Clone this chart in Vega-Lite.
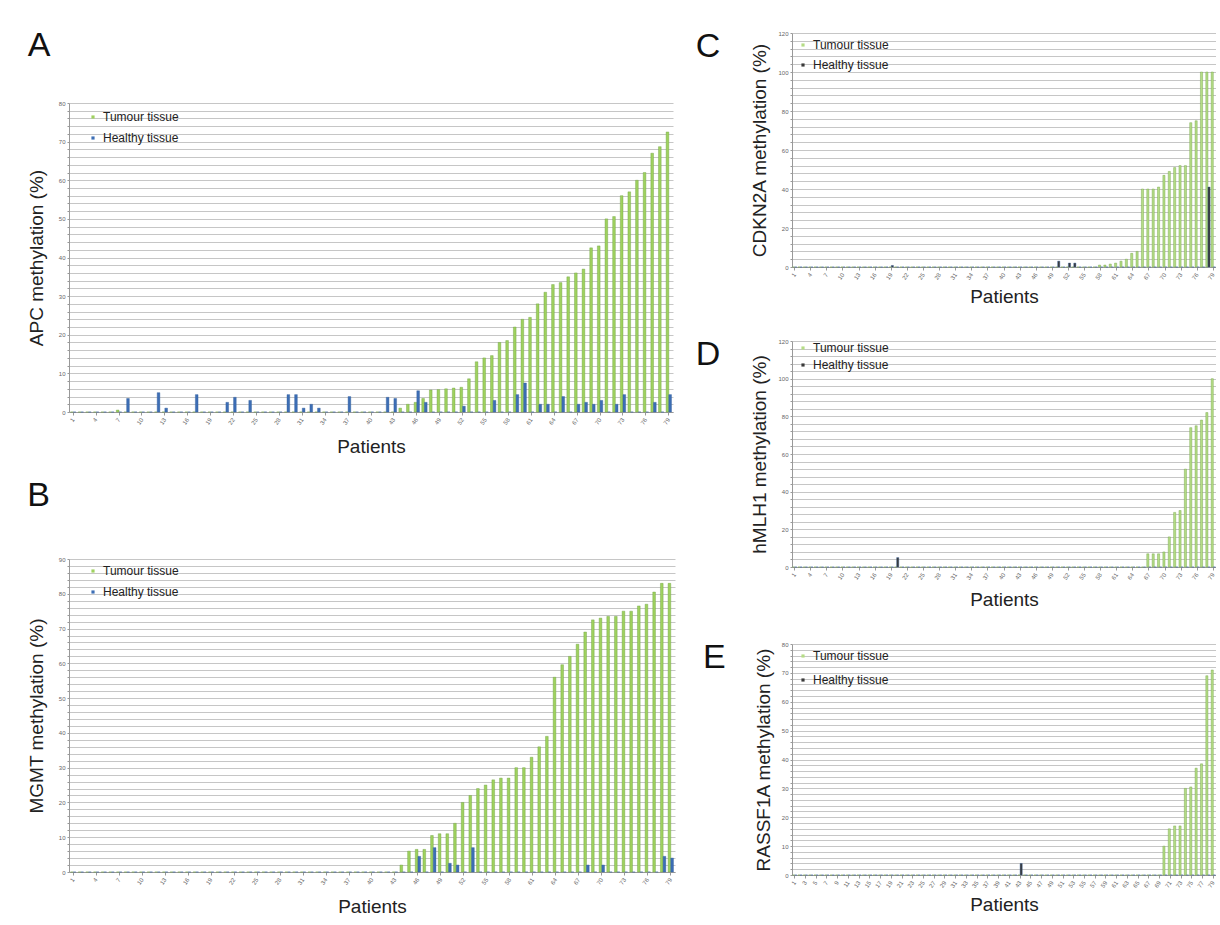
{
  "$schema": "https://vega.github.io/schema/vega-lite/v6.json",
  "background": "white",
  "padding": {"left": 27, "top": 29, "right": 0, "bottom": 0},
  "config": {
    "font": "Liberation Sans",
    "view": {"stroke": null},
    "title": {"fontSize": 34, "fontWeight": "normal", "color": "#111", "font": "Liberation Sans"},
    "axis": {"labelFont": "Liberation Sans", "titleFont": "Liberation Sans", "titleFontWeight": "normal", "titleColor": "#222", "labelColor": "#666", "domainColor": "#999", "tickColor": "#999", "gridColor": "#c6c6c6", "titleFontSize": 19},
    "axisX": {"grid": false, "labelFontSize": 6, "labelAngle": -55, "tickSize": 3, "titlePadding": 12, "labelPadding": 3},
    "axisY": {"labelFontSize": 6, "tickSize": 2, "titlePadding": 12},
    "legend": {"title": null, "orient": "none", "labelFontSize": 12, "labelColor": "#222", "symbolType": "square", "symbolSize": 10, "rowPadding": 9, "labelFont": "Liberation Sans"},
    "bar": {"strokeWidth": 0.4}
  },
  "datasets": {
    "A": [
      {"p":1,"T":0,"H":0},{"p":2,"T":0,"H":0},{"p":3,"T":0,"H":0},{"p":4,"T":0,"H":0},{"p":5,"T":0,"H":0},{"p":6,"T":0,"H":0},{"p":7,"T":0.5,"H":0},{"p":8,"T":0,"H":3.5},{"p":9,"T":0,"H":0},{"p":10,"T":0,"H":0},
      {"p":11,"T":0,"H":0},{"p":12,"T":0,"H":5},{"p":13,"T":0,"H":1},{"p":14,"T":0,"H":0},{"p":15,"T":0,"H":0},{"p":16,"T":0,"H":0},{"p":17,"T":0,"H":4.5},{"p":18,"T":0,"H":0},{"p":19,"T":0,"H":0},{"p":20,"T":0,"H":0},
      {"p":21,"T":0,"H":2.5},{"p":22,"T":0,"H":3.8},{"p":23,"T":0,"H":0},{"p":24,"T":0,"H":3},{"p":25,"T":0,"H":0},{"p":26,"T":0,"H":0},{"p":27,"T":0,"H":0},{"p":28,"T":0,"H":0},{"p":29,"T":0,"H":4.5},{"p":30,"T":0,"H":4.5},
      {"p":31,"T":0,"H":1},{"p":32,"T":0,"H":2},{"p":33,"T":0,"H":1},{"p":34,"T":0,"H":0},{"p":35,"T":0,"H":0},{"p":36,"T":0,"H":0},{"p":37,"T":0,"H":4},{"p":38,"T":0,"H":0},{"p":39,"T":0,"H":0},{"p":40,"T":0,"H":0},
      {"p":41,"T":0,"H":0},{"p":42,"T":0,"H":3.8},{"p":43,"T":0,"H":3.5},{"p":44,"T":1,"H":0},{"p":45,"T":2,"H":0},{"p":46,"T":2.5,"H":5.5},{"p":47,"T":3.5,"H":2.5},{"p":48,"T":5.7,"H":0},{"p":49,"T":5.8,"H":0},{"p":50,"T":6,"H":0},
      {"p":51,"T":6.2,"H":0},{"p":52,"T":6.4,"H":1.5},{"p":53,"T":8.6,"H":0},{"p":54,"T":13,"H":0},{"p":55,"T":14,"H":0},{"p":56,"T":14.6,"H":3},{"p":57,"T":18,"H":0},{"p":58,"T":18.5,"H":0},{"p":59,"T":22,"H":4.5},{"p":60,"T":24,"H":7.5},
      {"p":61,"T":24.5,"H":0},{"p":62,"T":28,"H":2},{"p":63,"T":31,"H":2},{"p":64,"T":33,"H":0},{"p":65,"T":33.5,"H":4},{"p":66,"T":35,"H":0},{"p":67,"T":36,"H":2},{"p":68,"T":37,"H":2.5},{"p":69,"T":42.5,"H":2},{"p":70,"T":43,"H":3},
      {"p":71,"T":50,"H":0},{"p":72,"T":50.6,"H":2},{"p":73,"T":56,"H":4.5},{"p":74,"T":57,"H":0},{"p":75,"T":60,"H":0},{"p":76,"T":62,"H":0},{"p":77,"T":67,"H":2.5},{"p":78,"T":68.7,"H":0},{"p":79,"T":72.5,"H":4.5}
    ],
    "B": [
      {"p":1,"T":0,"H":0},{"p":2,"T":0,"H":0},{"p":3,"T":0,"H":0},{"p":4,"T":0,"H":0},{"p":5,"T":0,"H":0},{"p":6,"T":0,"H":0},{"p":7,"T":0,"H":0},{"p":8,"T":0,"H":0},{"p":9,"T":0,"H":0},{"p":10,"T":0,"H":0},
      {"p":11,"T":0,"H":0},{"p":12,"T":0,"H":0},{"p":13,"T":0,"H":0},{"p":14,"T":0,"H":0},{"p":15,"T":0,"H":0},{"p":16,"T":0,"H":0},{"p":17,"T":0,"H":0},{"p":18,"T":0,"H":0},{"p":19,"T":0,"H":0},{"p":20,"T":0,"H":0},
      {"p":21,"T":0,"H":0},{"p":22,"T":0,"H":0},{"p":23,"T":0,"H":0},{"p":24,"T":0,"H":0},{"p":25,"T":0,"H":0},{"p":26,"T":0,"H":0},{"p":27,"T":0,"H":0},{"p":28,"T":0,"H":0},{"p":29,"T":0,"H":0},{"p":30,"T":0,"H":0},
      {"p":31,"T":0,"H":0},{"p":32,"T":0,"H":0},{"p":33,"T":0,"H":0},{"p":34,"T":0,"H":0},{"p":35,"T":0,"H":0},{"p":36,"T":0,"H":0},{"p":37,"T":0,"H":0},{"p":38,"T":0,"H":0},{"p":39,"T":0,"H":0},{"p":40,"T":0,"H":0},
      {"p":41,"T":0,"H":0},{"p":42,"T":0,"H":0},{"p":43,"T":0,"H":0},{"p":44,"T":2,"H":0},{"p":45,"T":6,"H":0},{"p":46,"T":6.5,"H":4.5},{"p":47,"T":6.5,"H":0},{"p":48,"T":10.5,"H":7},{"p":49,"T":11,"H":0},{"p":50,"T":11,"H":2.5},
      {"p":51,"T":14,"H":2},{"p":52,"T":20,"H":0},{"p":53,"T":22,"H":7},{"p":54,"T":24,"H":0},{"p":55,"T":25,"H":0},{"p":56,"T":26.5,"H":0},{"p":57,"T":27,"H":0},{"p":58,"T":27,"H":0},{"p":59,"T":30,"H":0},{"p":60,"T":30,"H":0},
      {"p":61,"T":33,"H":0},{"p":62,"T":36,"H":0},{"p":63,"T":39,"H":0},{"p":64,"T":56,"H":0},{"p":65,"T":59.6,"H":0},{"p":66,"T":62,"H":0},{"p":67,"T":65.5,"H":0},{"p":68,"T":69,"H":2},{"p":69,"T":72.5,"H":0},{"p":70,"T":73,"H":2},
      {"p":71,"T":73.5,"H":0},{"p":72,"T":73.5,"H":0},{"p":73,"T":75,"H":0},{"p":74,"T":75,"H":0},{"p":75,"T":76.5,"H":0},{"p":76,"T":77,"H":0},{"p":77,"T":80.5,"H":0},{"p":78,"T":83,"H":4.5},{"p":79,"T":83,"H":4}
    ],
    "C": [
      {"p":1,"T":0,"H":0},{"p":2,"T":0,"H":0},{"p":3,"T":0,"H":0},{"p":4,"T":0,"H":0},{"p":5,"T":0,"H":0},{"p":6,"T":0,"H":0},{"p":7,"T":0,"H":0},{"p":8,"T":0,"H":0},{"p":9,"T":0,"H":0},{"p":10,"T":0,"H":0},
      {"p":11,"T":0,"H":0},{"p":12,"T":0,"H":0},{"p":13,"T":0,"H":0},{"p":14,"T":0,"H":0},{"p":15,"T":0,"H":0},{"p":16,"T":0,"H":0},{"p":17,"T":0,"H":0},{"p":18,"T":0,"H":0},{"p":19,"T":0,"H":0.8},{"p":20,"T":0,"H":0},
      {"p":21,"T":0,"H":0},{"p":22,"T":0,"H":0},{"p":23,"T":0,"H":0},{"p":24,"T":0,"H":0},{"p":25,"T":0,"H":0},{"p":26,"T":0,"H":0},{"p":27,"T":0,"H":0},{"p":28,"T":0,"H":0},{"p":29,"T":0,"H":0},{"p":30,"T":0,"H":0},
      {"p":31,"T":0,"H":0},{"p":32,"T":0,"H":0},{"p":33,"T":0,"H":0},{"p":34,"T":0,"H":0},{"p":35,"T":0,"H":0},{"p":36,"T":0,"H":0},{"p":37,"T":0,"H":0},{"p":38,"T":0,"H":0},{"p":39,"T":0,"H":0},{"p":40,"T":0,"H":0},
      {"p":41,"T":0,"H":0},{"p":42,"T":0,"H":0},{"p":43,"T":0,"H":0},{"p":44,"T":0,"H":0},{"p":45,"T":0,"H":0},{"p":46,"T":0,"H":0},{"p":47,"T":0,"H":0},{"p":48,"T":0,"H":0},{"p":49,"T":0,"H":0},{"p":50,"T":0,"H":3},
      {"p":51,"T":0,"H":0},{"p":52,"T":0,"H":2},{"p":53,"T":0,"H":2},{"p":54,"T":0,"H":0},{"p":55,"T":0,"H":0},{"p":56,"T":0,"H":0},{"p":57,"T":0,"H":0},{"p":58,"T":1,"H":0},{"p":59,"T":1,"H":0},{"p":60,"T":1.5,"H":0},
      {"p":61,"T":2,"H":0},{"p":62,"T":3,"H":0},{"p":63,"T":4,"H":0},{"p":64,"T":7,"H":0},{"p":65,"T":8,"H":0},{"p":66,"T":40,"H":0},{"p":67,"T":40,"H":0},{"p":68,"T":40,"H":0},{"p":69,"T":41,"H":0},{"p":70,"T":47,"H":0},
      {"p":71,"T":49,"H":0},{"p":72,"T":51,"H":0},{"p":73,"T":52,"H":0},{"p":74,"T":52,"H":0},{"p":75,"T":74,"H":0},{"p":76,"T":75,"H":0},{"p":77,"T":100,"H":0},{"p":78,"T":100,"H":41},{"p":79,"T":100,"H":0}
    ],
    "D": [
      {"p":1,"T":0,"H":0},{"p":2,"T":0,"H":0},{"p":3,"T":0,"H":0},{"p":4,"T":0,"H":0},{"p":5,"T":0,"H":0},{"p":6,"T":0,"H":0},{"p":7,"T":0,"H":0},{"p":8,"T":0,"H":0},{"p":9,"T":0,"H":0},{"p":10,"T":0,"H":0},
      {"p":11,"T":0,"H":0},{"p":12,"T":0,"H":0},{"p":13,"T":0,"H":0},{"p":14,"T":0,"H":0},{"p":15,"T":0,"H":0},{"p":16,"T":0,"H":0},{"p":17,"T":0,"H":0},{"p":18,"T":0,"H":0},{"p":19,"T":0,"H":0},{"p":20,"T":0,"H":5},
      {"p":21,"T":0,"H":0},{"p":22,"T":0,"H":0},{"p":23,"T":0,"H":0},{"p":24,"T":0,"H":0},{"p":25,"T":0,"H":0},{"p":26,"T":0,"H":0},{"p":27,"T":0,"H":0},{"p":28,"T":0,"H":0},{"p":29,"T":0,"H":0},{"p":30,"T":0,"H":0},
      {"p":31,"T":0,"H":0},{"p":32,"T":0,"H":0},{"p":33,"T":0,"H":0},{"p":34,"T":0,"H":0},{"p":35,"T":0,"H":0},{"p":36,"T":0,"H":0},{"p":37,"T":0,"H":0},{"p":38,"T":0,"H":0},{"p":39,"T":0,"H":0},{"p":40,"T":0,"H":0},
      {"p":41,"T":0,"H":0},{"p":42,"T":0,"H":0},{"p":43,"T":0,"H":0},{"p":44,"T":0,"H":0},{"p":45,"T":0,"H":0},{"p":46,"T":0,"H":0},{"p":47,"T":0,"H":0},{"p":48,"T":0,"H":0},{"p":49,"T":0,"H":0},{"p":50,"T":0,"H":0},
      {"p":51,"T":0,"H":0},{"p":52,"T":0,"H":0},{"p":53,"T":0,"H":0},{"p":54,"T":0,"H":0},{"p":55,"T":0,"H":0},{"p":56,"T":0,"H":0},{"p":57,"T":0,"H":0},{"p":58,"T":0,"H":0},{"p":59,"T":0,"H":0},{"p":60,"T":0,"H":0},
      {"p":61,"T":0,"H":0},{"p":62,"T":0,"H":0},{"p":63,"T":0,"H":0},{"p":64,"T":0,"H":0},{"p":65,"T":0,"H":0},{"p":66,"T":0,"H":0},{"p":67,"T":7,"H":0},{"p":68,"T":7,"H":0},{"p":69,"T":7,"H":0},{"p":70,"T":8,"H":0},
      {"p":71,"T":16,"H":0},{"p":72,"T":29,"H":0},{"p":73,"T":30,"H":0},{"p":74,"T":52,"H":0},{"p":75,"T":74,"H":0},{"p":76,"T":75,"H":0},{"p":77,"T":78,"H":0},{"p":78,"T":82,"H":0},{"p":79,"T":100,"H":0}
    ],
    "E": [
      {"p":1,"T":0,"H":0},{"p":2,"T":0,"H":0},{"p":3,"T":0,"H":0},{"p":4,"T":0,"H":0},{"p":5,"T":0,"H":0},{"p":6,"T":0,"H":0},{"p":7,"T":0,"H":0},{"p":8,"T":0,"H":0},{"p":9,"T":0,"H":0},{"p":10,"T":0,"H":0},
      {"p":11,"T":0,"H":0},{"p":12,"T":0,"H":0},{"p":13,"T":0,"H":0},{"p":14,"T":0,"H":0},{"p":15,"T":0,"H":0},{"p":16,"T":0,"H":0},{"p":17,"T":0,"H":0},{"p":18,"T":0,"H":0},{"p":19,"T":0,"H":0},{"p":20,"T":0,"H":0},
      {"p":21,"T":0,"H":0},{"p":22,"T":0,"H":0},{"p":23,"T":0,"H":0},{"p":24,"T":0,"H":0},{"p":25,"T":0,"H":0},{"p":26,"T":0,"H":0},{"p":27,"T":0,"H":0},{"p":28,"T":0,"H":0},{"p":29,"T":0,"H":0},{"p":30,"T":0,"H":0},
      {"p":31,"T":0,"H":0},{"p":32,"T":0,"H":0},{"p":33,"T":0,"H":0},{"p":34,"T":0,"H":0},{"p":35,"T":0,"H":0},{"p":36,"T":0,"H":0},{"p":37,"T":0,"H":0},{"p":38,"T":0,"H":0},{"p":39,"T":0,"H":0},{"p":40,"T":0,"H":0},
      {"p":41,"T":0,"H":0},{"p":42,"T":0,"H":0},{"p":43,"T":0,"H":4},{"p":44,"T":0,"H":0},{"p":45,"T":0,"H":0},{"p":46,"T":0,"H":0},{"p":47,"T":0,"H":0},{"p":48,"T":0,"H":0},{"p":49,"T":0,"H":0},{"p":50,"T":0,"H":0},
      {"p":51,"T":0,"H":0},{"p":52,"T":0,"H":0},{"p":53,"T":0,"H":0},{"p":54,"T":0,"H":0},{"p":55,"T":0,"H":0},{"p":56,"T":0,"H":0},{"p":57,"T":0,"H":0},{"p":58,"T":0,"H":0},{"p":59,"T":0,"H":0},{"p":60,"T":0,"H":0},
      {"p":61,"T":0,"H":0},{"p":62,"T":0,"H":0},{"p":63,"T":0,"H":0},{"p":64,"T":0,"H":0},{"p":65,"T":0,"H":0},{"p":66,"T":0,"H":0},{"p":67,"T":0,"H":0},{"p":68,"T":0,"H":0},{"p":69,"T":0,"H":0},{"p":70,"T":10,"H":0},
      {"p":71,"T":16,"H":0},{"p":72,"T":17,"H":0},{"p":73,"T":17,"H":0},{"p":74,"T":30,"H":0},{"p":75,"T":30.5,"H":0},{"p":76,"T":37,"H":0},{"p":77,"T":38.5,"H":0},{"p":78,"T":69,"H":0},{"p":79,"T":71,"H":0}
    ]
  },
  "resolve": {"scale": {"color": "independent", "xOffset": "independent", "x": "independent", "y": "independent"}, "legend": {"color": "independent"}},
  "columns": 2,
  "align": "none",
  "spacing": 20,
  "concat": [
    {
      "spacing": 22,
      "resolve": {"scale": {"color": "independent", "xOffset": "independent", "x": "independent", "y": "independent"}, "legend": {"color": "independent"}},
      "vconcat": [
        {
          "data": {"values": [{"a": 0}]},
          "width": 604, "height": 45,
          "title": {"text": "A", "orient": "left", "anchor": "end", "angle": 0, "baseline": "top", "align": "right", "offset": -4, "dy": -4},
          "mark": {"type": "point", "opacity": 0},
          "encoding": {}
        },
        {
          "data": {"name": "A"},
          "transform": [{"fold": ["T", "H"], "as": ["t", "v"]}],
          "width": 604, "height": 309,
          "mark": {"type": "bar"},
          "encoding": {
            "x": {"field": "p", "type": "ordinal", "scale": {"paddingInner": 0.3, "paddingOuter": 0.2},
                  "axis": {"title": "Patients", "values": [1,4,7,10,13,16,19,22,25,28,31,34,37,40,43,46,49,52,55,58,61,64,67,70,73,76,79]}},
            "xOffset": {"field": "t", "type": "nominal", "scale": {"domain": ["T", "H"]}},
            "y": {"field": "v", "type": "quantitative", "scale": {"domain": [0, 80], "nice": false},
                  "axis": {"title": "APC methylation (%)", "values": [0,2,4,6,8,10,12,14,16,18,20,22,24,26,28,30,32,34,36,38,40,42,44,46,48,50,52,54,56,58,60,62,64,66,68,70,72,74,76,78,80], "labelExpr": "datum.value % 10 == 0 ? datum.label : ''"}},
            "color": {"field": "t", "type": "nominal", "scale": {"domain": ["T", "H"], "range": ["#9fd15f", "#3d6eb5"]},
                      "legend": {"legendX": 18, "legendY": 8, "labelExpr": "datum.label == 'T' ? 'Tumour tissue' : 'Healthy tissue'"}},
            "stroke": {"field": "t", "type": "nominal", "scale": {"domain": ["T", "H"], "range": ["#6a9f3c", "#2d5a9a"]}, "legend": null}
          }
        },
        {
          "data": {"name": "B"},
          "transform": [{"fold": ["T", "H"], "as": ["t", "v"]}],
          "width": 606, "height": 313,
          "title": {"text": "B", "anchor": "start", "frame": "bounds", "offset": 43},
          "mark": {"type": "bar"},
          "encoding": {
            "x": {"field": "p", "type": "ordinal", "scale": {"paddingInner": 0.3, "paddingOuter": 0.2},
                  "axis": {"title": "Patients", "values": [1,4,7,10,13,16,19,22,25,28,31,34,37,40,43,46,49,52,55,58,61,64,67,70,73,76,79]}},
            "xOffset": {"field": "t", "type": "nominal", "scale": {"domain": ["T", "H"]}},
            "y": {"field": "v", "type": "quantitative", "scale": {"domain": [0, 90], "nice": false},
                  "axis": {"title": "MGMT methylation (%)", "values": [0,2,4,6,8,10,12,14,16,18,20,22,24,26,28,30,32,34,36,38,40,42,44,46,48,50,52,54,56,58,60,62,64,66,68,70,72,74,76,78,80,82,84,86,88,90], "labelExpr": "datum.value % 10 == 0 ? datum.label : ''"}},
            "color": {"field": "t", "type": "nominal", "scale": {"domain": ["T", "H"], "range": ["#9fd15f", "#3d6eb5"]},
                      "legend": {"legendX": 18, "legendY": 6, "labelExpr": "datum.label == 'T' ? 'Tumour tissue' : 'Healthy tissue'"}},
            "stroke": {"field": "t", "type": "nominal", "scale": {"domain": ["T", "H"], "range": ["#6a9f3c", "#2d5a9a"]}, "legend": null}
          }
        }
      ]
    },
    {
      "spacing": 31,
      "resolve": {"scale": {"color": "independent", "xOffset": "independent", "x": "independent", "y": "independent"}, "legend": {"color": "independent"}},
      "vconcat": [
        {
          "data": {"name": "C"},
          "transform": [{"fold": ["T", "H"], "as": ["t", "v"]}],
          "width": 424, "height": 234,
          "title": {"text": "C", "orient": "left", "anchor": "end", "angle": 0, "baseline": "top", "align": "right", "offset": 6},
          "mark": {"type": "bar"},
          "encoding": {
            "x": {"field": "p", "type": "ordinal", "scale": {"paddingInner": 0.2, "paddingOuter": 0.1},
                  "axis": {"title": "Patients", "titlePadding": 7, "values": [1,4,7,10,13,16,19,22,25,28,31,34,37,40,43,46,49,52,55,58,61,64,67,70,73,76,79]}},
            "xOffset": {"field": "t", "type": "nominal", "scale": {"domain": ["T", "H"]}},
            "y": {"field": "v", "type": "quantitative", "scale": {"domain": [0, 120], "nice": false},
                  "axis": {"title": "CDKN2A methylation (%)", "titlePadding": 8, "values": [0,4,8,12,16,20,24,28,32,36,40,44,48,52,56,60,64,68,72,76,80,84,88,92,96,100,104,108,112,116,120], "labelExpr": "datum.value % 20 == 0 ? datum.label : ''"}},
            "color": {"field": "t", "type": "nominal", "scale": {"domain": ["T", "H"], "range": ["#b5dc86", "#3a3a3a"]},
                      "legend": {"legendX": 5, "legendY": 6, "rowPadding": 8, "labelExpr": "datum.label == 'T' ? 'Tumour tissue' : 'Healthy tissue'"}},
            "stroke": {"field": "t", "type": "nominal", "scale": {"domain": ["T", "H"], "range": ["#7fb24e", "#222222"]}, "legend": null}
          }
        },
        {
          "data": {"name": "D"},
          "transform": [{"fold": ["T", "H"], "as": ["t", "v"]}],
          "width": 424, "height": 226,
          "title": {"text": "D", "orient": "left", "anchor": "end", "angle": 0, "baseline": "top", "align": "right", "offset": 6},
          "mark": {"type": "bar"},
          "encoding": {
            "x": {"field": "p", "type": "ordinal", "scale": {"paddingInner": 0.2, "paddingOuter": 0.1},
                  "axis": {"title": "Patients", "titlePadding": 10, "values": [1,4,7,10,13,16,19,22,25,28,31,34,37,40,43,46,49,52,55,58,61,64,67,70,73,76,79]}},
            "xOffset": {"field": "t", "type": "nominal", "scale": {"domain": ["T", "H"]}},
            "y": {"field": "v", "type": "quantitative", "scale": {"domain": [0, 120], "nice": false},
                  "axis": {"title": "hMLH1 methylation (%)", "titlePadding": 8, "values": [0,4,8,12,16,20,24,28,32,36,40,44,48,52,56,60,64,68,72,76,80,84,88,92,96,100,104,108,112,116,120], "labelExpr": "datum.value % 20 == 0 ? datum.label : ''"}},
            "color": {"field": "t", "type": "nominal", "scale": {"domain": ["T", "H"], "range": ["#b5dc86", "#3a3a3a"]},
                      "legend": {"legendX": 5, "legendY": 1, "rowPadding": 5, "labelExpr": "datum.label == 'T' ? 'Tumour tissue' : 'Healthy tissue'"}},
            "stroke": {"field": "t", "type": "nominal", "scale": {"domain": ["T", "H"], "range": ["#7fb24e", "#222222"]}, "legend": null}
          }
        },
        {
          "data": {"name": "E"},
          "transform": [{"fold": ["T", "H"], "as": ["t", "v"]}],
          "width": 424, "height": 231,
          "title": {"text": "E", "orient": "left", "anchor": "end", "angle": 0, "baseline": "top", "align": "right", "offset": 6},
          "mark": {"type": "bar"},
          "encoding": {
            "x": {"field": "p", "type": "ordinal", "scale": {"paddingInner": 0.2, "paddingOuter": 0.1},
                  "axis": {"title": "Patients", "titlePadding": 7, "values": [1,3,5,7,9,11,13,15,17,19,21,23,25,27,29,31,33,35,37,39,41,43,45,47,49,51,53,55,57,59,61,63,65,67,69,71,73,75,77,79]}},
            "xOffset": {"field": "t", "type": "nominal", "scale": {"domain": ["T", "H"]}},
            "y": {"field": "v", "type": "quantitative", "scale": {"domain": [0, 80], "nice": false},
                  "axis": {"title": "RASSF1A methylation (%)", "titlePadding": 8, "values": [0,2,4,6,8,10,12,14,16,18,20,22,24,26,28,30,32,34,36,38,40,42,44,46,48,50,52,54,56,58,60,62,64,66,68,70,72,74,76,78,80], "labelExpr": "datum.value % 10 == 0 ? datum.label : ''"}},
            "color": {"field": "t", "type": "nominal", "scale": {"domain": ["T", "H"], "range": ["#b5dc86", "#3a3a3a"]},
                      "legend": {"legendX": 5, "legendY": 6, "rowPadding": 12, "labelExpr": "datum.label == 'T' ? 'Tumour tissue' : 'Healthy tissue'"}},
            "stroke": {"field": "t", "type": "nominal", "scale": {"domain": ["T", "H"], "range": ["#7fb24e", "#222222"]}, "legend": null}
          }
        }
      ]
    }
  ]
}
